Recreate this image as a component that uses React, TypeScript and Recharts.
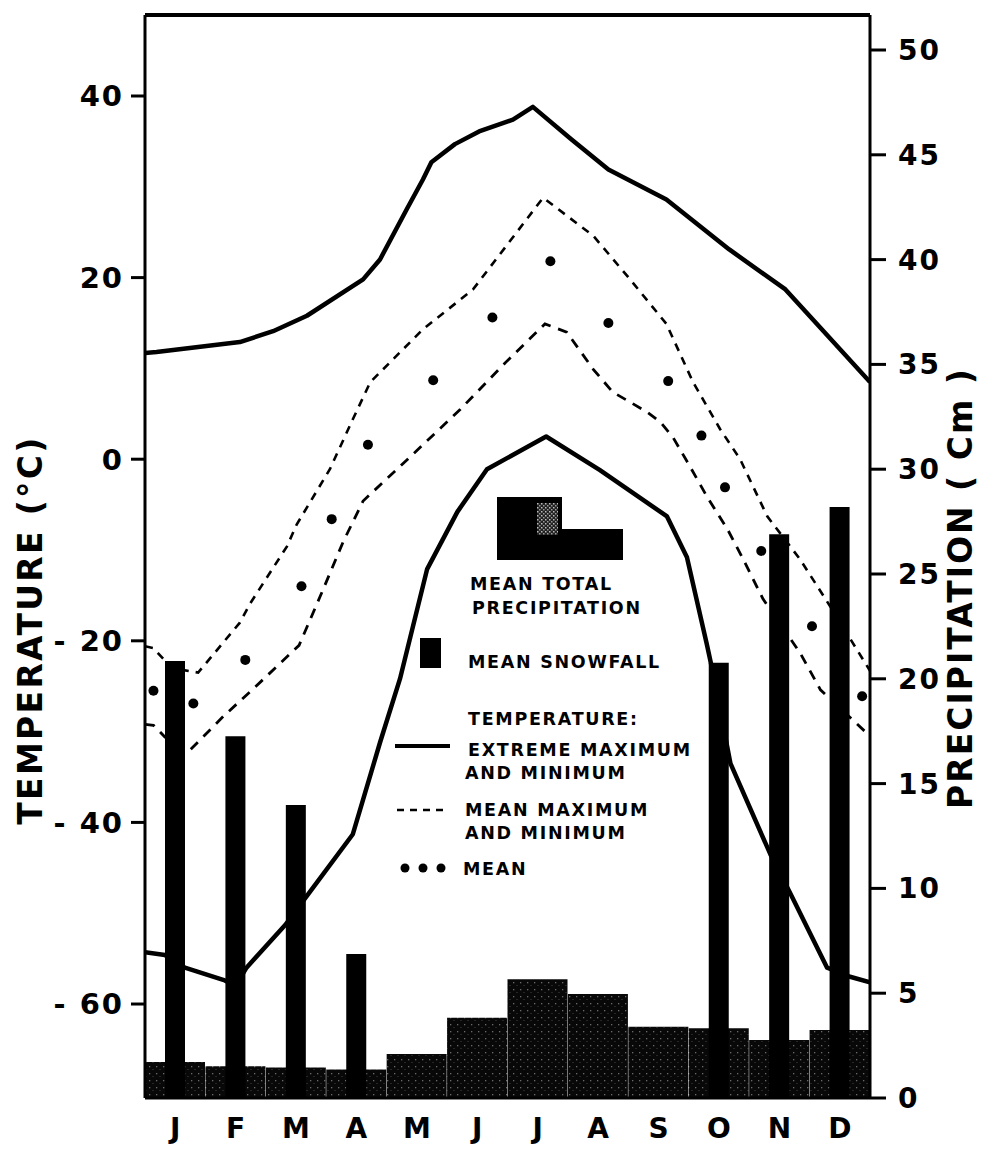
import React from 'react';
import { ComposedChart, Bar, Line, XAxis, YAxis, ReferenceLine, Legend } from 'recharts';

// ---- data ----
const months = ['J', 'F', 'M', 'A', 'M', 'J', 'J', 'A', 'S', 'O', 'N', 'D'];
const totalPrecip = [1.72, 1.52, 1.45, 1.36, 2.1, 3.83, 5.66, 4.96, 3.4, 3.33, 2.77, 3.24];
const snowfall = [20.85, 17.26, 13.98, 6.87, 0, 0, 0, 0, 0, 20.77, 26.9, 28.2];
const tempTicks = [-60, -40, -20, 0, 20, 40];
const precipTicks = [0, 5, 10, 15, 20, 25, 30, 35, 40, 45, 50];

// temperature traces: [position in months (0 = start of Jan, 12 = end of Dec), °C]
const extremeMax: [number, number][] = [
  [0, 11.7], [0.19, 11.8], [1.57, 12.9], [2.12, 14.1], [2.68, 15.8], [3.61, 19.8], [3.89, 22.0],
  [4.33, 27.5], [4.6, 30.8], [4.74, 32.7], [5.13, 34.7], [5.53, 36.1], [6.09, 37.4], [6.42, 38.8],
  [7.06, 35.2], [7.67, 31.9], [8.63, 28.6], [9.67, 23.1], [10.6, 18.7], [12, 8.5],
];
const extremeMin: [number, number][] = [
  [0, -54.3], [0.33, -54.6], [0.66, -56.0], [1.32, -57.4], [1.5, -58.0], [1.68, -56.0], [2.32, -51.3],
  [2.68, -48.1], [3.44, -41.3], [3.89, -31.2], [4.22, -24.2], [4.67, -12.1], [5.17, -5.8], [5.66, -1.1],
  [6.64, 2.5], [7.53, -1.2], [8.64, -6.3], [8.97, -10.8], [9.3, -20.4], [9.4, -23.5], [9.69, -33.5],
  [10.35, -43.5], [10.68, -47.8], [11.29, -56.0], [11.67, -57.0], [12, -57.6],
];
const meanMax: [number, number][] = [
  [0, -20.6], [0.14, -20.8], [0.44, -23.0], [0.88, -23.5], [1.57, -18.0], [1.74, -15.9], [2.35, -9.6],
  [2.51, -7.2], [3.06, -1.1], [3.44, 4.4], [3.73, 8.5], [4.6, 14.3], [5.43, 18.7], [6.59, 28.8],
  [7.42, 24.6], [8.03, 19.8], [8.63, 14.9], [9.07, 8.5], [9.52, 3.3], [9.85, 0], [10.3, -6.3],
  [10.84, -11.0], [11.34, -16.2], [12, -23.3],
];
const meanMin: [number, number][] = [
  [0, -29.2], [0.14, -29.3], [0.33, -30.6], [0.75, -32.0], [1.3, -28.3], [1.79, -25.3], [2.55, -20.5],
  [2.9, -15.1], [3.28, -9.1], [3.61, -4.6], [4.22, -0.8], [5.22, 5.5], [5.99, 10.8], [6.62, 14.9],
  [6.98, 14.0], [7.42, 9.9], [7.74, 7.4], [8.31, 5.2], [8.53, 4.1], [8.74, 2.4], [9.02, -0.8],
  [9.3, -4.1], [9.64, -7.7], [9.9, -11.0], [10.23, -15.4], [10.84, -21.3], [11.18, -25.4],
  [11.92, -30.0], [12, -30.5],
];
const meanDots: [number, number][] = [
  [0.14, -25.5], [0.8, -26.9], [1.66, -22.1], [2.59, -14.0], [3.09, -6.6], [3.69, 1.6], [4.77, 8.7],
  [5.75, 15.6], [6.71, 21.8], [7.67, 15.0], [8.66, 8.6], [9.21, 2.6], [9.6, -3.1], [10.2, -10.1],
  [11.04, -18.4], [11.87, -26.1],
];

const TEMP_DOMAIN: [number, number] = [-70.35, 48.92];
const PRECIP_DOMAIN: [number, number] = [0, 51.67];

const barData = months.map((m, i) => ({ month: m, total: totalPrecip[i], snow: snowfall[i] }));
const toPts = (arr: [number, number][]) => arr.map(([x, t]) => ({ x, t }));

const FONT = "'DejaVu Sans', 'Liberation Sans', sans-serif";

const AxisTitle = (props: any) => {
  const { px, py, title, spacing } = props;
  return (
    <text
      x={px}
      y={py}
      transform={`rotate(-90 ${px} ${py})`}
      textAnchor="middle"
      dominantBaseline="central"
      fontFamily={FONT}
      fontWeight="bold"
      fontSize={33}
      letterSpacing={spacing}
      fill="#000"
    >
      {title}
    </text>
  );
};

const legendText = {
  fontFamily: FONT,
  fontWeight: 'bold' as const,
  fontSize: 17.5,
  letterSpacing: 1.7,
  fill: '#000',
};

const LegendBox = () => (
  <svg width={330} height={392} style={{ overflow: 'visible', display: 'block' }}>
    <defs>
      <pattern id="legStip" width="4" height="4" patternUnits="userSpaceOnUse">
        <rect width="4" height="4" fill="#222" />
        <rect x="0" y="0" width="1.5" height="1.5" fill="#bbb" />
        <rect x="2" y="2" width="1.5" height="1.5" fill="#999" />
      </pattern>
    </defs>
    <rect x={104} y={2} width={65} height={63} fill="#000" />
    <rect x={169} y={34} width={61} height={31} fill="#000" />
    <rect x={144} y={8} width={21} height={32} fill="url(#legStip)" />
    <text x={77} y={95} {...legendText}>MEAN TOTAL</text>
    <text x={79} y={119} {...legendText}>PRECIPITATION</text>
    <rect x={27} y={143} width={21} height={30} fill="#000" />
    <text x={75} y={173} {...legendText}>MEAN SNOWFALL</text>
    <text x={75} y={230} {...legendText}>TEMPERATURE:</text>
    <line x1={2} y1={251} x2={57} y2={251} stroke="#000" strokeWidth={4} />
    <text x={75} y={261} {...legendText}>EXTREME MAXIMUM</text>
    <text x={72} y={284} {...legendText}>AND MINIMUM</text>
    <line x1={4} y1={315} x2={52} y2={315} stroke="#000" strokeWidth={2.5} strokeDasharray="7 6" />
    <text x={72} y={321} {...legendText}>MEAN MAXIMUM</text>
    <text x={72} y={344} {...legendText}>AND MINIMUM</text>
    <circle cx={12} cy={373} r={4.5} fill="#000" />
    <circle cx={30} cy={373} r={4.5} fill="#000" />
    <circle cx={48} cy={373} r={4.5} fill="#000" />
    <text x={70} y={380} {...legendText}>MEAN</text>
  </svg>
);

const tickStyle = { fill: '#000', fontSize: 29, fontWeight: 'bold', fontFamily: FONT, letterSpacing: 2 };

export default function App() {
  return (
    <div style={{ width: 975, height: 1142, position: 'relative', background: '#fff' }}>
      <ComposedChart
        width={975}
        height={1142}
        data={barData}
        margin={{ top: 7, right: 13, bottom: 7, left: 0 }}
        barCategoryGap={0}
        barGap={0}
      >
        <defs>
          <pattern id="stip" width="7" height="7" patternUnits="userSpaceOnUse">
            <rect width="7" height="7" fill="#080808" />
            <rect x="1" y="1" width="1.3" height="1.3" fill="#6a6a6a" />
            <rect x="4.5" y="4" width="1" height="1" fill="#444" />
          </pattern>
        </defs>
        <XAxis
          xAxisId="cat"
          dataKey="month"
          interval={0}
          height={45}
          tickSize={0}
          tickMargin={20}
          axisLine={{ stroke: '#000', strokeWidth: 3 }}
          tickLine={false}
          tick={{ fill: '#000', fontSize: 28, fontWeight: 'bold', fontFamily: FONT }}
        />
        <XAxis xAxisId="snow" dataKey="month" hide />
        <XAxis xAxisId="num" dataKey="x" type="number" domain={[0, 12]} allowDataOverflow hide />
        <YAxis
          yAxisId="temp"
          orientation="left"
          type="number"
          domain={TEMP_DOMAIN}
          allowDataOverflow
          ticks={tempTicks}
          interval={0}
          width={137}
          tickSize={14}
          tickMargin={7}
          axisLine={{ stroke: '#000', strokeWidth: 3 }}
          tickLine={{ stroke: '#000', strokeWidth: 3 }}
          tick={tickStyle}
          tickFormatter={(v: number) => (v < 0 ? `- ${-v}` : `${v}`)}
          label={<AxisTitle px={22} py={622} title="TEMPERATURE (°C)" spacing={2.3} />}
        />
        <YAxis
          yAxisId="precip"
          orientation="right"
          type="number"
          domain={PRECIP_DOMAIN}
          allowDataOverflow
          ticks={precipTicks}
          interval={0}
          width={100}
          tickSize={16}
          tickMargin={12}
          axisLine={{ stroke: '#000', strokeWidth: 3 }}
          tickLine={{ stroke: '#000', strokeWidth: 3 }}
          tick={{ ...tickStyle, fontSize: 28 }}
          label={<AxisTitle px={952} py={580} title="PRECIPITATION ( Cm )" spacing={2} />}
        />
        <ReferenceLine xAxisId="num" yAxisId="precip" y={PRECIP_DOMAIN[1]} stroke="#000" strokeWidth={4} />
        <Bar xAxisId="cat" yAxisId="precip" dataKey="total" fill="url(#stip)" isAnimationActive={false} legendType="none" />
        <Bar xAxisId="snow" yAxisId="precip" dataKey="snow" barSize={20} fill="#000" isAnimationActive={false} legendType="none" />
        <Line xAxisId="num" yAxisId="temp" data={toPts(extremeMax)} dataKey="t" type="linear" stroke="#000" strokeWidth={4.5} strokeLinejoin="round" dot={false} activeDot={false} isAnimationActive={false} legendType="none" />
        <Line xAxisId="num" yAxisId="temp" data={toPts(extremeMin)} dataKey="t" type="linear" stroke="#000" strokeWidth={4.5} strokeLinejoin="round" dot={false} activeDot={false} isAnimationActive={false} legendType="none" />
        <Line xAxisId="num" yAxisId="temp" data={toPts(meanMax)} dataKey="t" type="linear" stroke="#000" strokeWidth={2.6} strokeDasharray="8 7" dot={false} activeDot={false} isAnimationActive={false} legendType="none" />
        <Line xAxisId="num" yAxisId="temp" data={toPts(meanMin)} dataKey="t" type="linear" stroke="#000" strokeWidth={2.8} strokeDasharray="10 8" dot={false} activeDot={false} isAnimationActive={false} legendType="none" />
        <Line xAxisId="num" yAxisId="temp" data={toPts(meanDots)} dataKey="t" type="linear" stroke="none" strokeWidth={0} dot={{ r: 5, fill: '#000', stroke: 'none' }} activeDot={false} isAnimationActive={false} legendType="none" />
        <Legend
          layout="vertical"
          align="center"
          verticalAlign="middle"
          content={() => <LegendBox />}
          wrapperStyle={{ position: 'absolute', left: 385, top: 487, width: 330, height: 392 }}
        />
      </ComposedChart>
    </div>
  );
}
